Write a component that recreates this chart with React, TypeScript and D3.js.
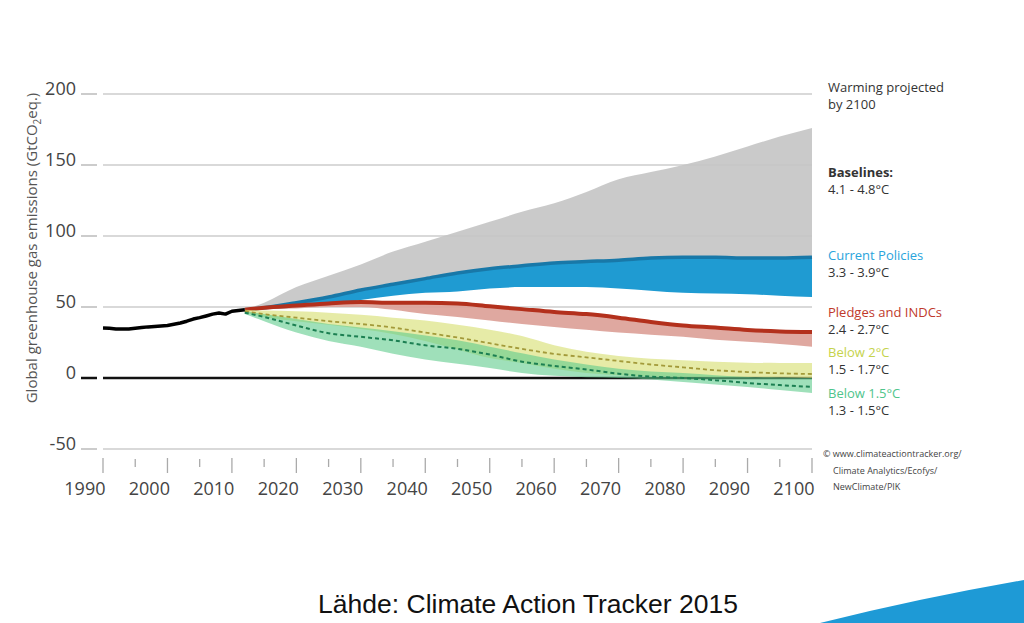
import React from "react";
import * as d3 from "d3";

const histYears = [1990,1991,1992,1993,1994,1995,1996,1997,1998,1999,2000,2001,2002,2003,2004,2005,2006,2007,2008,2009,2010,2011,2012];
const histValues = [35.2,35,34.5,34.5,34.5,35,35.5,36,36.3,36.6,37,37.8,38.7,40,41.5,42.5,43.7,45,45.8,45,47,47.5,48];

const projYears = [2012,2015,2020,2025,2030,2035,2040,2045,2050,2055,2060,2065,2070,2075,2080,2085,2090,2095,2100];
const baselineUpper = [48,53,64,72,80,89,96,103,110,117,123,131,140,145,150,156,163,170,176];
const policyUpper = [48,49.5,53,57,62,66,70,74,77,79,81,82,83,84.5,85,85,84.5,84.5,85];
const policyLower = [48,48.5,49.5,51,55,58,60,61,63,64,64,64,63,61.5,60,59.5,59,58,57];
const pledgesLine = [48,49.5,51,52.5,53.5,53,53,52.5,50.5,48.5,46.5,45,42.5,39.5,37,35.5,33.8,32.8,32.4];
const pledgesLower = [48,48.5,49,50,50,48,45,43,40.5,38,36,34,32,30.5,29,27,25.5,24,22];
const below2Upper = [48,47.5,47,46,44.5,42.5,40.5,37.5,34,29.5,23,18.5,15.5,13.5,12.5,11.5,10.8,10.6,10.6];
const below2Mid = [47,45,42.5,40,38,35.5,32,28.5,24.5,20.5,17,14.5,12,9.5,7.5,5.5,4.2,3.3,2.8];
const below2Lower = [46,43,40,37.5,34.5,31,26,20,14,10.5,6.5,3.5,2,1,0.7,0.6,0.5,0.3,0];
const below15Upper = [47,45,41.5,38,35.5,33,30,26.5,22,17.5,13,9.5,6.5,4.5,3.5,2,0.7,0.3,0];
const below15Mid = [46,43,37,31.5,29,26.5,23,20.5,16.5,11.5,8.5,6,3,1,0,-1.5,-3.5,-5,-6.3];
const below15Lower = [45,40,32,26,22,17,13,10,7,3.5,1.5,0.5,0,-1,-2.8,-4.5,-6.3,-8.5,-10.6];

const yTicks = [200,150,100,50,0,-50];
const xMajor = [1990,2000,2010,2020,2030,2040,2050,2060,2070,2080,2090,2100];
const xMinor = [1995,2005,2015,2025,2035,2045,2055,2065,2075,2085,2095];

const legendItems = [
  { title: "Baselines:", range: "4.1 - 4.8°C", color: "#333", bold: true, y: 177 },
  { title: "Current Policies", range: "3.3 - 3.9°C", color: "#2aa4dc", bold: false, y: 260 },
  { title: "Pledges and INDCs", range: "2.4 - 2.7°C", color: "#c0392b", bold: false, y: 317 },
  { title: "Below 2°C", range: "1.5 - 1.7°C", color: "#c5d34c", bold: false, y: 357 },
  { title: "Below 1.5°C", range: "1.3 - 1.5°C", color: "#4fc58c", bold: false, y: 398 },
];

const creditLines = ["© www.climateactiontracker.org/", "Climate Analytics/Ecofys/", "NewClimate/PIK"];

export default function App() {
  const x = d3.scaleLinear().domain([1990, 2100]).range([103, 812]);
  const y = d3.scaleLinear().domain([-50, 200]).range([449, 94]);
  const font = "'Open Sans', 'DejaVu Sans', sans-serif";

  const band = (upper: number[], lower: number[]) =>
    d3.area<number>()
      .x((_, i) => x(projYears[i]))
      .y0((_, i) => y(lower[i]))
      .y1((_, i) => y(upper[i]))
      .curve(d3.curveMonotoneX)(projYears) as string;

  const line = (vals: number[]) =>
    d3.line<number>()
      .x((_, i) => x(projYears[i]))
      .y((_, i) => y(vals[i]))
      .curve(d3.curveMonotoneX)(projYears) as string;

  const histPath = d3.line<number>()
    .x((_, i) => x(histYears[i]))
    .y((_, i) => y(histValues[i]))
    .curve(d3.curveLinear)(histYears) as string;

  return (
    <svg width={1024} height={623} style={{ position: "absolute", left: 0, top: 0, background: "#fff" }}>
      {/* grid */}
      {yTicks.map((t) => (
        <g key={t}>
          <line x1={81} x2={97} y1={y(t)} y2={y(t)} stroke={t === 0 ? "#111" : "#aaa"} strokeWidth={t === 0 ? 2.5 : 1.2} />
          <line x1={103} x2={812} y1={y(t)} y2={y(t)} stroke={t === 0 ? "#111" : "#b4b4b4"} strokeWidth={t === 0 ? 2.5 : 1.2} />
          <text x={76} y={y(t) + 1} textAnchor="end" fontFamily={font} fontSize={18} fill="#444">{t}</text>
        </g>
      ))}

      {/* bands */}
      <path d={band(baselineUpper, policyUpper)} fill="#c4c4c4" fillOpacity={0.9} />
      <path d={band(policyUpper, policyLower)} fill="#1f9bd2" />
      <path d={line(policyUpper)} fill="none" stroke="#1878a8" strokeWidth={3.5} />
      <path d={band(pledgesLine, pledgesLower)} fill="#dc9e96" fillOpacity={0.9} />
      <path d={line(pledgesLine)} fill="none" stroke="#b3301c" strokeWidth={4} />
      <path d={band(below2Upper, below2Lower)} fill="#dde385" fillOpacity={0.72} />
      <path d={band(below15Upper, below15Lower)} fill="#5fcc8c" fillOpacity={0.6} />
      <path d={line(below2Mid)} fill="none" stroke="#a39a3a" strokeWidth={1.8} strokeDasharray="4,3" />
      <path d={line(below15Mid)} fill="none" stroke="#1c7f52" strokeWidth={2} strokeDasharray="4,3" />

      {/* historical */}
      <path d={histPath} fill="none" stroke="#000" strokeWidth={3.5} strokeLinejoin="round" />

      {/* x axis ticks */}
      {xMajor.map((t) => (
        <g key={t}>
          <line x1={x(t)} x2={x(t)} y1={458} y2={473} stroke="#aaa" strokeWidth={1.3} />
          <text x={x(t) + 2.5} y={495} textAnchor="end" fontFamily={font} fontSize={18} fill="#444">{t}</text>
        </g>
      ))}
      {xMinor.map((t) => (
        <line key={t} x1={x(t)} x2={x(t)} y1={459} y2={467} stroke="#aaa" strokeWidth={1.3} />
      ))}

      {/* y label */}
      <text transform="translate(37,248) rotate(-90)" textAnchor="middle" fontFamily={font} fontSize={15} fill="#555">
        Global greenhouse gas emissions (GtCO<tspan fontSize={10} dy={4}>2</tspan><tspan dy={-4}>eq.)</tspan>
      </text>

      {/* right labels */}
      <text x={828} y={92} fontFamily={font} fontSize={13} fill="#333">Warming projected</text>
      <text x={828} y={109} fontFamily={font} fontSize={13} fill="#333">by 2100</text>
      {legendItems.map((it) => (
        <g key={it.title}>
          <text x={828} y={it.y} fontFamily={font} fontSize={13} fill={it.color} fontWeight={it.bold ? 700 : 400}>{it.title}</text>
          <text x={828} y={it.y + 17} fontFamily={font} fontSize={13} fill="#333">{it.range}</text>
        </g>
      ))}
      {creditLines.map((s, i) => (
        <text key={s} x={i === 0 ? 823 : 833} y={457 + i * 16.5} fontFamily={font} fontSize={9} fill="#444">{s}</text>
      ))}

      {/* caption */}
      <text x={528} y={613} textAnchor="middle" fontFamily="'Liberation Sans', Arial, sans-serif" fontSize={26.5} fill="#111">Lähde: Climate Action Tracker 2015</text>
      <path d="M820,623 Q920,598 1024,580 L1024,623 Z" fill="#1e9ad6" />
    </svg>
  );
}
